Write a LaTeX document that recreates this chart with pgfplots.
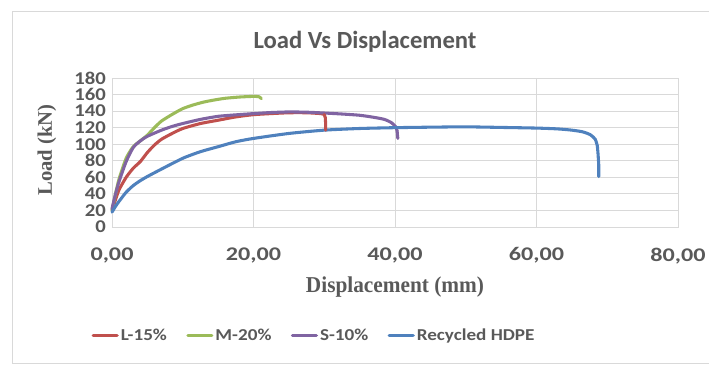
\documentclass[border=0pt]{standalone}
\usepackage{pgfplots}
\pgfplotsset{compat=1.18}
\usepackage{fontspec}
\setmainfont{Carlito}
\newfontfamily\serifb{Liberation Serif}[FakeStretch=0.94]
\newfontfamily\serify{Liberation Serif}
\newfontfamily\ytfont{Carlito}[FakeStretch=1.15]
\newfontfamily\xtfont{Carlito}[FakeStretch=1.25]
\newfontfamily\legfont{Carlito}[FakeStretch=1.15]
\definecolor{cRed}{HTML}{C0504D}
\definecolor{cGreen}{HTML}{9BBB59}
\definecolor{cPurple}{HTML}{8064A2}
\definecolor{cBlue}{HTML}{4F81BD}
\definecolor{gridc}{HTML}{D9D9D9}
\definecolor{txt}{HTML}{595959}
\begin{document}
\begin{tikzpicture}
\path[use as bounding box] (-84pt,-102.75pt) rectangle (447.75pt,170.25pt);
\draw[gridc, line width=0.8pt] (449pt,161.6pt) -- (-74.6pt,161.6pt) -- (-74.6pt,-102.3pt) -- (449pt,-102.3pt);
\begin{axis}[
  at={(0,0)}, anchor=south west,
  scale only axis, width=424.5pt, height=111.75pt,
  xmin=0, xmax=80, ymin=0, ymax=180,
  xtick={0,20,40,60,80}, ytick={0,20,...,180},
  xticklabels={{0,00},{20,00},{40,00},{60,00},{80,00}},
  major tick length=0pt,
  grid=major, major grid style={gridc, line width=0.6pt},
  axis line style={gridc, line width=0.6pt},
  yticklabel style={font=\ytfont\fontsize{13.5}{14}\selectfont\bfseries, text=txt, xshift=-1pt},
  xticklabel style={font=\xtfont\fontsize{14.5}{15}\selectfont\bfseries, text=txt, yshift=-12pt},
  /pgf/number format/assume math mode=true,
  legend columns=4,
  legend style={at={(0.357,-0.73)}, anchor=center, draw=none, fill=none,
    font=\legfont\fontsize{12.5}{13}\selectfont\bfseries, text=txt,
    /tikz/every even column/.append style={column sep=13pt},
    /tikz/every odd column/.append style={column sep=0pt},
    /tikz/every node/.append style={inner xsep=1.5pt}},
  legend image code/.code={\draw[#1, line width=2.4pt] (0pt,0pt) -- (18pt,0pt);},
  clip=false,
  every axis plot/.append style={line width=2.3pt, line join=round, line cap=round},
]
% L-15%
\addplot[cRed, smooth, tension=0.4] coordinates {
(0,20) (0.5,33) (1,45) (2,60) (3,71) (4,79) (5,90) (6,99) (7,106) (8.5,113) (10,119) (12.5,125) (15,129) (17.5,133) (20,135.7) (22.5,137) (25,138) (27.5,138) (29.5,137) (30,136)
};
\addlegendentry{L-15\%}
\addplot[cGreen, smooth, tension=0.4] coordinates {
(0,20) (0.5,40) (1,58) (2,83) (3,97) (4,104) (5,111) (6,120) (7,128) (8.5,136) (10,143) (11.5,147.5) (13,151) (14.5,153.5) (16,155.5) (18,157) (20,157.8) (20.8,157.3) (21.1,155)
};
\addlegendentry{M-20\%}
\addplot[cPurple, smooth, tension=0.4] coordinates {
(0,22) (0.5,40) (1,55) (2,79) (3,96) (4,104) (5,109.6) (7,117) (8.5,121.5) (10,125) (12.5,130) (15,133.7) (17.5,135.5) (20,137) (22.5,138.3) (25,139) (27.5,138.7) (30,137.7) (32.5,136.5) (35,135) (37,132.5) (38.5,130) (39.5,126) (40.1,121) (40.3,116)
};
\addlegendentry{S-10\%}
\addplot[cBlue, smooth, tension=0.4] coordinates {
(0,18) (0.5,25) (1,31) (2,42) (3,50) (4,56) (5,61) (7,70) (10,83) (12.5,91) (15,97) (17.5,103) (20,107) (25,113) (30,117) (35,119) (40,120) (45,120.6) (50,121) (55,120.3) (60,119.5) (63,118.5) (65,117) (66.5,115) (67.6,111.5) (68.3,106) (68.6,98)
};
\addlegendentry{Recycled HDPE}
\addplot[cRed, forget plot] coordinates {(30,136) (30.15,132) (30.2,124) (30.2,117)};
\addplot[cPurple, forget plot] coordinates {(40.3,116) (40.35,111) (40.4,107)};
\addplot[cBlue, forget plot] coordinates {(68.6,98) (68.7,88) (68.8,75) (68.8,61)};
\end{axis}
\node[font=\fontsize{18.5}{20}\selectfont\bfseries, text=txt] at (189.75pt,138.75pt) {Load Vs Displacement};
\node[font=\serifb\fontsize{17}{19}\selectfont\bfseries, text=txt] at (212.25pt,-45pt) {Displacement (mm)};
\node[font=\serify\fontsize{15.5}{17}\selectfont\bfseries, text=txt, rotate=90] at (-48.75pt,57.75pt) {Load (kN)};
\end{tikzpicture}
\end{document}
